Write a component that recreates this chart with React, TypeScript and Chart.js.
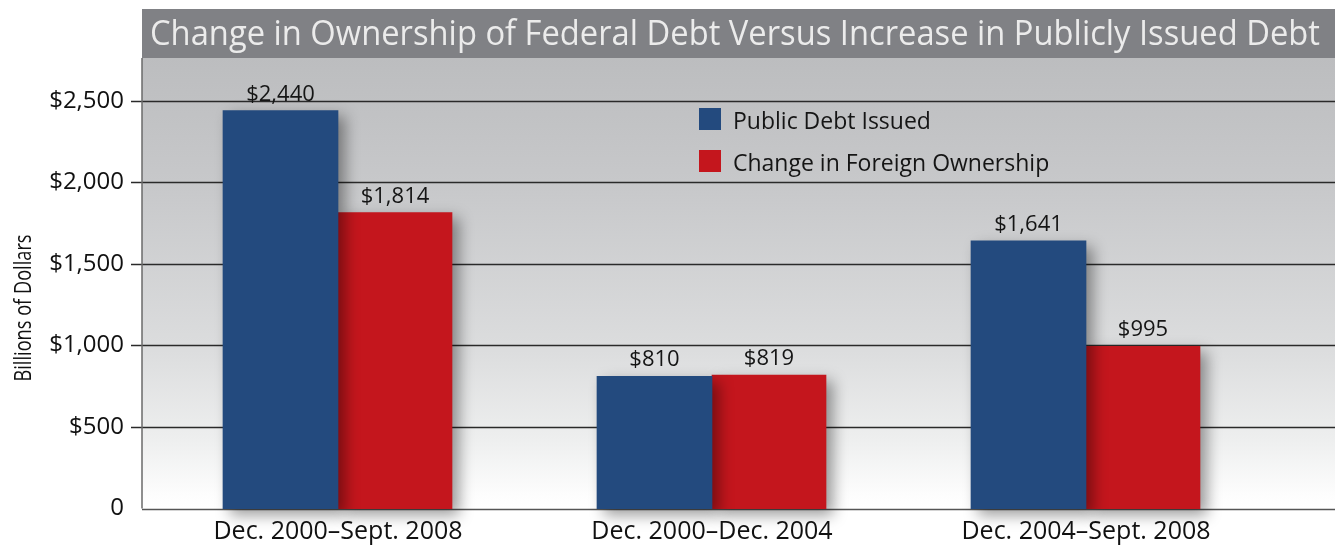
import React, { useEffect, useRef } from "react";
import { Chart, registerables } from "chart.js";

Chart.register(...registerables);

const TITLE = "Change in Ownership of Federal Debt Versus Increase in Publicly Issued Debt";
const Y_TITLE = "Billions of Dollars";
const CATEGORIES = ["Dec. 2000–Sept. 2008", "Dec. 2000–Dec. 2004", "Dec. 2004–Sept. 2008"];
const SERIES_NAMES = ["Public Debt Issued", "Change in Foreign Ownership"];
const PUBLIC_DEBT = [2440, 810, 1641];
const FOREIGN_CHANGE = [1814, 819, 995];
const Y_TICKS = [0, 500, 1000, 1500, 2000, 2500];
const Y_MAX = 2762;
const COLORS = ["#234a7e", "#c4161d"];

const FONT = "'Open Sans', 'DejaVu Sans', sans-serif";

const fmt = (v: number) =>
  v === 0 ? "0" : "$" + String(v).replace(/\B(?=(\d{3})+(?!\d))/g, ",");

const PLOT_LEFT = 142;

const decor = {
  id: "decor",
  beforeDraw(chart: any) {
    const { ctx, chartArea: ca, width, height } = chart;
    const R = width;
    ctx.save();
    ctx.fillStyle = "#ffffff";
    ctx.fillRect(0, 0, width, height);
    // title banner
    ctx.fillStyle = "#808185";
    ctx.fillRect(PLOT_LEFT, 9, R - PLOT_LEFT, ca.top - 9);
    // plot background gradient
    const g = ctx.createLinearGradient(0, ca.top, 0, ca.bottom);
    g.addColorStop(0, "#bcbdbf");
    g.addColorStop(0.3, "#c8c9cb");
    g.addColorStop(0.65, "#dcddde");
    g.addColorStop(0.85, "#eeefef");
    g.addColorStop(0.97, "#fdfdfd");
    g.addColorStop(1, "#ffffff");
    ctx.fillStyle = g;
    ctx.fillRect(PLOT_LEFT, ca.top, R - PLOT_LEFT, ca.bottom - ca.top);
    // title text
    ctx.font = `34px ${FONT}`;
    ctx.fillStyle = "#ebebeb";
    ctx.textBaseline = "alphabetic";
    ctx.textAlign = "left";
    const tw = ctx.measureText(TITLE).width;
    const sx = 1170 / tw;
    ctx.translate(150, 45);
    ctx.scale(sx, 1);
    ctx.fillText(TITLE, 0, 0);
    ctx.restore();

    // y axis title
    ctx.save();
    ctx.font = `24px ${FONT}`;
    ctx.fillStyle = "#111";
    ctx.textAlign = "center";
    ctx.textBaseline = "alphabetic";
    const yw = ctx.measureText(Y_TITLE).width;
    ctx.translate(31, 308);
    ctx.rotate(-Math.PI / 2);
    ctx.scale(147 / yw, 1);
    ctx.fillText(Y_TITLE, 0, 0);
    ctx.restore();
  },
  beforeDatasetsDraw(chart: any) {
    const { ctx, chartArea: ca, width } = chart;
    const ys = chart.scales.y;
    ctx.save();
    // gridlines
    Y_TICKS.forEach((v) => {
      if (v === 0) return;
      const py = Math.round(ys.getPixelForValue(v)) + 0.5;
      ctx.strokeStyle = "#2a2a2a";
      ctx.lineWidth = 1.3;
      ctx.beginPath();
      ctx.moveTo(131, py);
      ctx.lineTo(width, py);
      ctx.stroke();
    });
    // left axis line
    ctx.strokeStyle = "#6a6a6a";
    ctx.lineWidth = 1.5;
    ctx.beginPath();
    ctx.moveTo(PLOT_LEFT, ca.top);
    ctx.lineTo(PLOT_LEFT, ca.bottom);
    ctx.stroke();
    // bottom line
    const by = Math.round(ys.getPixelForValue(0)) + 0.5;
    ctx.strokeStyle = "#555";
    ctx.lineWidth = 1.3;
    ctx.beginPath();
    ctx.moveTo(PLOT_LEFT, by);
    ctx.lineTo(width, by);
    ctx.stroke();
    ctx.restore();
    // shadow for bars
    ctx.save();
    ctx.shadowColor = "rgba(0,0,0,0.4)";
    ctx.shadowBlur = 14;
    ctx.shadowOffsetX = 7;
    ctx.shadowOffsetY = 6;
  },
  afterDatasetsDraw(chart: any) {
    const { ctx } = chart;
    ctx.restore();
    ctx.save();
    // value labels
    ctx.font = `22px ${FONT}`;
    ctx.fillStyle = "#151515";
    ctx.textAlign = "center";
    ctx.textBaseline = "alphabetic";
    chart.data.datasets.forEach((ds: any, di: number) => {
      const meta = chart.getDatasetMeta(di);
      meta.data.forEach((el: any, i: number) => {
        ctx.fillText(fmt(ds.data[i]), el.x, el.y - 10);
      });
    });
    // legend
    const legendX = 699;
    const legendTops = [108, 150];
    ctx.font = `23px ${FONT}`;
    ctx.textAlign = "left";
    chart.data.datasets.forEach((ds: any, di: number) => {
      const top = legendTops[di];
      ctx.fillStyle = ds.backgroundColor;
      ctx.fillRect(legendX, top, 22, 22);
      ctx.fillStyle = "#151515";
      ctx.fillText(ds.label, legendX + 34, top + 21);
    });
    ctx.restore();
  },
};

export default function App() {
  const ref = useRef<HTMLCanvasElement | null>(null);
  useEffect(() => {
    if (!ref.current) return;
    const chart = new Chart(ref.current, {
      type: "bar",
      data: {
        labels: CATEGORIES,
        datasets: [
          {
            label: SERIES_NAMES[0],
            data: PUBLIC_DEBT,
            backgroundColor: COLORS[0],
            borderWidth: 0,
            barThickness: 115,
            clip: false,
          } as any,
          {
            label: SERIES_NAMES[1],
            data: FOREIGN_CHANGE,
            backgroundColor: COLORS[1],
            borderWidth: 0,
            barThickness: 114,
            clip: false,
          } as any,
        ],
      },
      options: {
        animation: false,
        responsive: false,
        maintainAspectRatio: false,
        layout: { padding: { top: 58, right: 62, left: 0, bottom: 0 } },
        plugins: {
          legend: { display: false },
          title: { display: false },
          tooltip: { enabled: false },
        },
        scales: {
          x: {
            grid: { display: false, drawTicks: false },
            border: { display: false },
            ticks: {
              font: { family: FONT, size: 25 },
              color: "#111",
              padding: 8,
              maxRotation: 0,
              autoSkip: false,
            },
            afterFit: (s: any) => {
              s.height = 39;
            },
          },
          y: {
            min: 0,
            max: Y_MAX,
            grid: { display: false, drawTicks: false },
            border: { display: false },
            ticks: {
              font: { family: FONT, size: 24 },
              color: "#111",
              padding: 27,
              callback: (v: any) => fmt(Number(v)),
            },
            afterBuildTicks: (s: any) => {
              s.ticks = Y_TICKS.map((v) => ({ value: v }));
            },
            afterFit: (s: any) => {
              s.width = 151;
            },
          },
        },
      },
      plugins: [decor],
    });
    return () => chart.destroy();
  }, []);
  return (
    <div style={{ position: "fixed", left: 0, top: 0, width: 1335, height: 550 }}>
      <canvas ref={ref} width={1335} height={550} style={{ display: "block" }} />
    </div>
  );
}
